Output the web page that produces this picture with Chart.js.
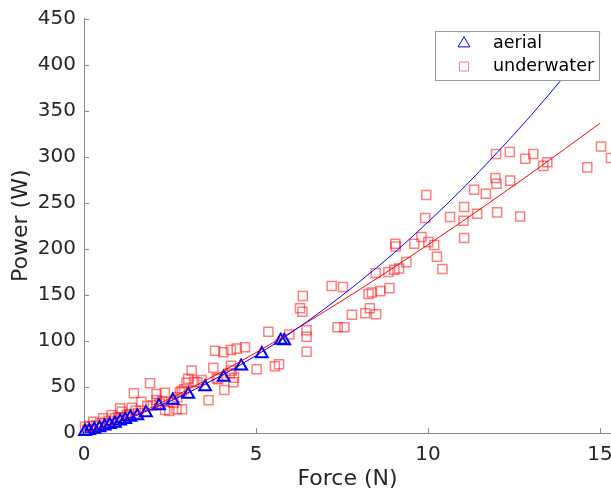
<!DOCTYPE html>
<html>
<head>
<meta charset="utf-8">
<script src="https://cdn.jsdelivr.net/npm/chart.js@4"></script>
<style>
  html, body { margin: 0; padding: 0; background: #fff; overflow: hidden; }
  #wrap { width: 611px; height: 490px; }
</style>
</head>
<body>
<div id="wrap"><canvas id="powerChart" width="611" height="490"></canvas></div>
<script>
// measured points, force (N) against power (W)
const aerialForce = [0.03, 0.15, 0.3, 0.45, 0.6, 0.75, 0.9, 1.05, 1.2, 1.35, 1.55, 1.8, 2.18, 2.58, 3.03, 3.52, 4.06, 4.57, 5.17, 5.72, 5.82];
const aerialPower = [1.5, 2.5, 4, 5.5, 7.5, 9, 10.5, 13, 14.5, 17, 18.5, 22, 29.5, 35.5, 42, 50, 60.5, 72.5, 86, 100.5, 100];

const waterForce = [
  0.03, 0.1, 0.17, 0.27, 0.35, 0.47, 0.56, 0.62, 0.71, 0.8, 0.9, 1.0, 1.05, 1.1, 1.24, 1.3, 1.39, 1.45, 1.5, 1.58,
  1.67, 1.84, 1.92, 2.0, 2.11, 2.11, 2.2, 2.27, 2.35, 2.36, 2.48,
  2.6, 2.69, 2.71, 2.79, 2.84, 2.85, 2.91, 2.98, 3.03, 3.13, 3.2, 3.3, 3.42, 3.62, 3.76, 3.81, 3.86, 3.9, 4.05, 4.08,
  4.24, 4.27, 4.27, 4.29, 4.34, 4.36, 4.44, 4.68, 5.02, 5.36, 5.55, 5.67, 5.97, 6.28, 6.35, 6.36, 6.47, 6.47, 6.47,
  7.2, 7.53, 7.37, 7.57, 7.79, 8.18, 8.31, 8.49, 8.27, 8.37, 8.61, 8.88, 8.48, 8.85, 9.02, 9.16, 9.37, 9.05, 9.06,
  9.6, 9.81, 10.01, 10.18, 10.26, 10.42, 9.92, 9.95, 10.64, 11.03, 11.05, 11.05, 11.34, 11.43, 11.68, 11.96, 11.99,
  11.98, 12.01, 12.38, 12.39, 12.68, 12.83, 13.06, 13.35, 13.47, 14.63, 15.03, 15.32
];
const waterPower = [
  6.8, 4, 7.6, 12.3, 8, 10.5, 15.9, 11, 13.4, 19.5, 15.9, 17, 26.8, 23.1, 19.5, 20.5, 27.5, 43.1, 24, 21.4,
  34, 29.3, 54, 30, 42.3, 35.8, 32, 34.7, 43.8, 25, 23.9,
  32.9, 25.7, 38.8, 44.2, 45.6, 25.7, 47.4, 54.6, 59, 67.7, 55.7, 55, 57.5, 35.5, 70.9, 89.4, 59.4, 58.3, 87.6, 46.7,
  64.8, 73.1, 90.1, 67.7, 55, 60, 91.6, 93, 69.2, 110, 72.4, 74.6, 107, 135.4, 131.7, 148.8, 111.5, 104.6, 88.3,
  159.5, 158.4, 114.9, 114.9, 128.3, 130, 135.5, 129, 151, 152.5, 154, 157.3, 173.6, 174.7, 177.2, 178.6, 185.5, 205.4, 202.5,
  205.4, 212.7, 207.2, 204, 191.3, 178, 233.4, 258.3, 234.5, 230.4, 211.6, 245.3, 264, 238, 259.8, 276.8, 270.7,
  303, 239.5, 305, 274, 235, 297.8, 303, 290, 294, 288.4, 311, 298.6
];

const fitForce = [0, 1, 2, 3, 4, 5, 6, 7, 8, 9, 10, 11, 12, 13, 14, 15];
const aerialFit = [0, 12, 26.4, 43.3, 62.5, 84, 108.4, 135, 164, 195, 229, 265, 304, 345, 389, 434];
const waterFit = [0, 12.1, 28.4, 46.7, 66.4, 87.3, 109.2, 132, 155.4, 179.6, 204.4, 229.8, 255.6, 282, 309, 336.2];

const seriesNames = ["aerial", "underwater"];
const xTicks = [0, 5, 10, 15];
const yTicks = [0, 50, 100, 150, 200, 250, 300, 350, 400, 450];

const textColor = "#262626";
const axisColor = "#8a8a8a";
const fontFamily = "'DejaVu Sans', sans-serif";

function pairs(xs, ys) {
    return xs.map((x, i) => ({ x: x, y: ys[i] }));
}

// matlab style ticks that point into the plot
const insideTicks = {
    id: "insideTicks",
    afterDraw(chart) {
        const { ctx, chartArea, scales } = chart;
        ctx.save();
        ctx.strokeStyle = axisColor;
        ctx.lineWidth = 1;
        ctx.beginPath();
        scales.x.ticks.forEach(t => {
            const px = Math.round(scales.x.getPixelForValue(t.value)) + 0.5;
            ctx.moveTo(px, chartArea.bottom);
            ctx.lineTo(px, chartArea.bottom - 5);
        });
        scales.y.ticks.forEach(t => {
            const py = Math.round(scales.y.getPixelForValue(t.value)) + 0.5;
            ctx.moveTo(chartArea.left, py);
            ctx.lineTo(chartArea.left + 5, py);
        });
        ctx.stroke();
        ctx.restore();
    }
};

// boxed legend sitting inside the top right of the axes
const boxLegend = {
    id: "boxLegend",
    afterDraw(chart) {
        const ctx = chart.ctx;
        const area = chart.chartArea;
        const w = 164, h = 49;
        const x0 = area.right - 12 - w;
        const y0 = 31;
        ctx.save();
        ctx.fillStyle = "#fff";
        ctx.fillRect(x0, y0, w, h);
        ctx.strokeStyle = "#9a9a9a";
        ctx.lineWidth = 1;
        ctx.strokeRect(x0 + 0.5, y0 + 0.5, w, h);

        ctx.font = "17.5px " + fontFamily;
        ctx.textBaseline = "middle";
        const items = chart.data.datasets.filter(d => seriesNames.includes(d.label));
        items.forEach((ds, i) => {
            const cy = y0 + 12.5 + i * 23;
            ctx.strokeStyle = ds.borderColor;
            ctx.fillStyle = "rgba(0,0,0,0)";
            ctx.lineWidth = 1;
            Chart.helpers.drawPoint(ctx, {
                pointStyle: ds.pointStyle,
                radius: ds.pointRadius,
                borderWidth: 1,
                rotation: 0
            }, x0 + 29, cy);
            ctx.fillStyle = "#000";
            ctx.fillText(ds.label, x0 + 58, cy);
        });
        ctx.restore();
    }
};

const ctx = document.getElementById("powerChart").getContext("2d");

new Chart(ctx, {
    type: "scatter",
    data: {
        datasets: [
            {
                type: "line",
                label: "aerial fit",
                data: pairs(fitForce, aerialFit),
                borderColor: "#0000ff",
                borderWidth: 1,
                pointRadius: 0,
                cubicInterpolationMode: "monotone",
                fill: false,
                order: 0
            },
            {
                type: "line",
                label: "underwater fit",
                data: pairs(fitForce, waterFit),
                borderColor: "#ff0000",
                borderWidth: 1,
                pointRadius: 0,
                cubicInterpolationMode: "monotone",
                fill: false,
                order: 0
            },
            {
                label: seriesNames[0],
                data: pairs(aerialForce, aerialPower),
                pointStyle: "triangle",
                pointRadius: 6.8,
                pointHoverRadius: 6.8,
                borderColor: "#0000ff",
                backgroundColor: "rgba(0,0,0,0)",
                pointBorderWidth: 2,
                clip: false,
                order: 1
            },
            {
                label: seriesNames[1],
                data: pairs(waterForce, waterPower),
                pointStyle: "rect",
                pointRadius: 6.4,
                pointHoverRadius: 6.4,
                borderColor: "rgba(255,0,0,0.5)",
                backgroundColor: "rgba(0,0,0,0)",
                pointBorderWidth: 1.5,
                clip: false,
                order: 2
            }
        ]
    },
    options: {
        responsive: false,
        animation: false,
        devicePixelRatio: 1,
        layout: { autoPadding: false, padding: { top: 18.5, right: 0, left: 0, bottom: 0 } },
        plugins: {
            legend: { display: false },
            tooltip: { enabled: false }
        },
        scales: {
            x: {
                type: "linear",
                min: 0,
                max: 15.32,
                afterBuildTicks: s => { s.ticks = xTicks.map(v => ({ value: v })); },
                afterFit: s => { s.height = 57; s.paddingLeft = 0; s.paddingRight = 0; },
                grid: { display: true, drawOnChartArea: false, drawTicks: false },
                border: { display: true, color: axisColor, width: 1 },
                ticks: {
                    color: textColor,
                    padding: 10,
                    maxRotation: 0,
                    font: { family: fontFamily, size: 20 }
                },
                title: {
                    display: true,
                    text: "Force (N)",
                    color: textColor,
                    padding: { top: 0, bottom: -0.5 },
                    font: { family: fontFamily, size: 22, lineHeight: 1 }
                }
            },
            y: {
                type: "linear",
                min: 0,
                max: 450,
                afterBuildTicks: s => { s.ticks = yTicks.map(v => ({ value: v })); },
                afterFit: s => { s.width = 84; s.paddingTop = 0; s.paddingBottom = 0; },
                grid: { display: true, drawOnChartArea: false, drawTicks: false },
                border: { display: true, color: axisColor, width: 1 },
                ticks: {
                    color: textColor,
                    padding: 8,
                    font: { family: fontFamily, size: 20 }
                },
                title: {
                    display: true,
                    text: "Power (W)",
                    color: textColor,
                    padding: { top: 10.5, bottom: 0 },
                    font: { family: fontFamily, size: 22, lineHeight: 1 }
                }
            }
        }
    },
    plugins: [insideTicks, boxLegend]
});
</script>
</body>
</html>
